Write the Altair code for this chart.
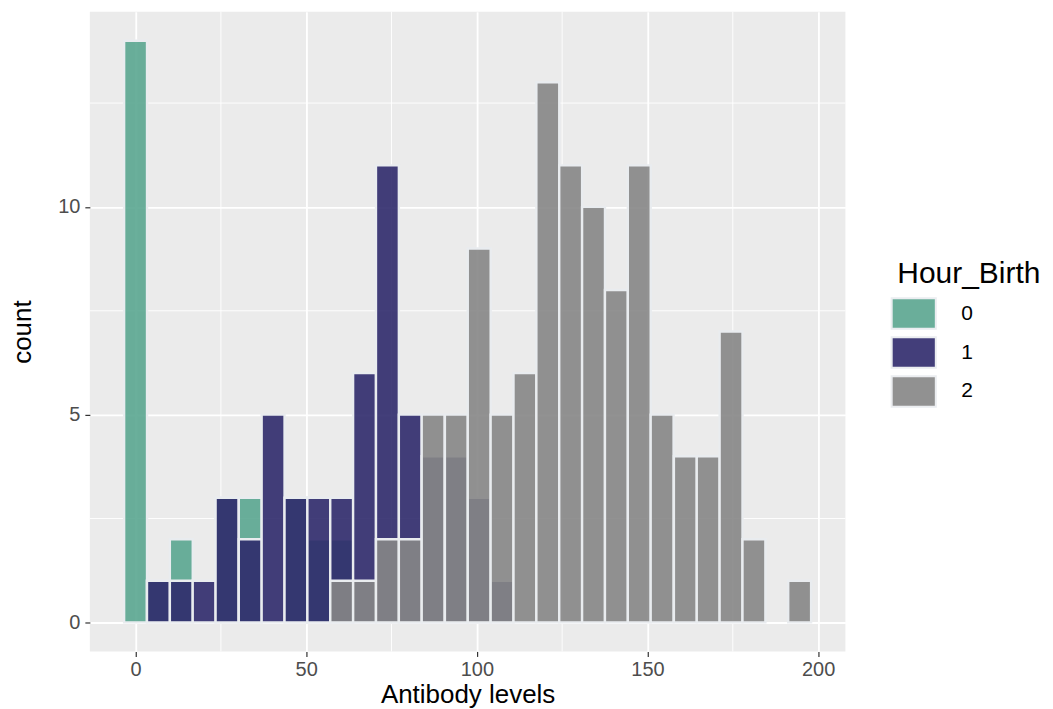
import altair as alt
import pandas as pd

# Histogram bins (centres) and counts per Hour_Birth group
bin_width = 6.71
bin_centers = [0.0, 6.7, 13.4, 20.1, 26.8, 33.6, 40.3, 47.0, 53.7, 60.4,
               67.1, 73.8, 80.5, 87.2, 94.0, 100.7, 107.4, 114.1, 120.8, 127.5,
               134.2, 140.9, 147.6, 154.3, 161.1, 167.8, 174.5, 181.2, 187.9, 194.6]
counts_0 = [14, 1, 2, 0, 3, 3, 0, 3, 2, 2, 0, 0, 0, 0, 0,
            0, 0, 0, 0, 0, 0, 0, 0, 0, 0, 0, 0, 0, 0, 0]
counts_1 = [0, 1, 1, 1, 3, 2, 5, 3, 3, 3, 6, 11, 5, 4, 4,
            3, 1, 0, 0, 0, 0, 0, 0, 0, 0, 0, 0, 0, 0, 0]
counts_2 = [0, 0, 0, 0, 0, 0, 0, 0, 0, 1, 1, 2, 2, 5, 5,
            9, 5, 6, 13, 11, 10, 8, 11, 5, 4, 4, 7, 2, 0, 1]

groups = ["0", "1", "2"]
colors = ["#5aa690", "#2f2a6c", "#868686"]

x_ticks = [0, 50, 100, 150, 200]
y_ticks = [0, 5, 10]
minor_x = [25, 75, 125, 175]
minor_y = [2.5, 7.5, 12.5]

rows = []
for g, counts in zip(groups, [counts_0, counts_1, counts_2]):
    for c, n in zip(bin_centers, counts):
        if n > 0:
            rows.append({"group": g, "x0": c - bin_width / 2, "x1": c + bin_width / 2,
                         "count": n, "base": 0})
df = pd.DataFrame(rows)

FONT = "Liberation Sans"
xscale = alt.Scale(domain=[-13.4, 208.0], nice=False, zero=False)
yscale = alt.Scale(domain=[-0.7, 14.7], nice=False, zero=False)

x_axis = alt.Axis(values=x_ticks, title="Antibody levels", grid=True,
                  gridColor="white", gridWidth=1.8, domain=False,
                  tickColor="#333333", tickSize=5, tickWidth=1.2,
                  labelColor="#4d4d4d", labelFont=FONT, labelFontSize=20,
                  labelPadding=3, titleFont=FONT, titleFontSize=26,
                  titleFontWeight="normal", titleColor="black",
                  titlePadding=2, labelFlush=False)
y_axis = alt.Axis(values=y_ticks, title="count", grid=True,
                  gridColor="white", gridWidth=1.8, domain=False,
                  tickColor="#333333", tickSize=5, tickWidth=1.2,
                  labelColor="#4d4d4d", labelFont=FONT, labelFontSize=20,
                  labelPadding=5, titleFont=FONT, titleFontSize=26,
                  titleFontWeight="normal", titleColor="black",
                  titlePadding=22, labelFlush=False)

minor_v = alt.Chart(pd.DataFrame({"v": minor_x})).mark_rule(
    color="white", strokeWidth=0.9).encode(
    x=alt.X("v:Q", scale=xscale, axis=x_axis))
minor_h = alt.Chart(pd.DataFrame({"v": minor_y})).mark_rule(
    color="white", strokeWidth=0.9).encode(
    y=alt.Y("v:Q", scale=yscale, axis=y_axis))

bars = alt.Chart(df).mark_bar(
    stroke="#e9ecef", strokeWidth=2.4, fillOpacity=0.9
).encode(
    x=alt.X("x0:Q", scale=xscale, axis=x_axis),
    x2="x1:Q",
    y=alt.Y("count:Q", scale=yscale, axis=y_axis),
    y2="base:Q",
    color=alt.Color("group:N",
                    scale=alt.Scale(domain=groups, range=colors),
                    legend=alt.Legend(
                        title="Hour_Birth", orient="none", legendX=809, legendY=248,
                        titleFont=FONT, titleFontSize=30, titleFontWeight="normal",
                        titleColor="black", titlePadding=8,
                        labelFont=FONT, labelFontSize=21, labelColor="black",
                        labelOffset=31,
                        symbolType="M-1.45,-1L1.45,-1L1.45,1L-1.45,1Z",
                        symbolSize=930, symbolOpacity=0.9,
                        symbolStrokeColor="#e9ecef", symbolStrokeWidth=2,
                        rowPadding=0)),
)

chart = alt.layer(minor_v, minor_h, bars).properties(
    width=757, height=641,
    autosize=alt.AutoSizeParams(type="none"),
    padding={"left": 82, "top": 3, "right": 200, "bottom": 57},
).configure_view(fill="#ebebeb", stroke=None)

chart.save("out.html", embed_options={"renderer": "svg", "actions": False})
